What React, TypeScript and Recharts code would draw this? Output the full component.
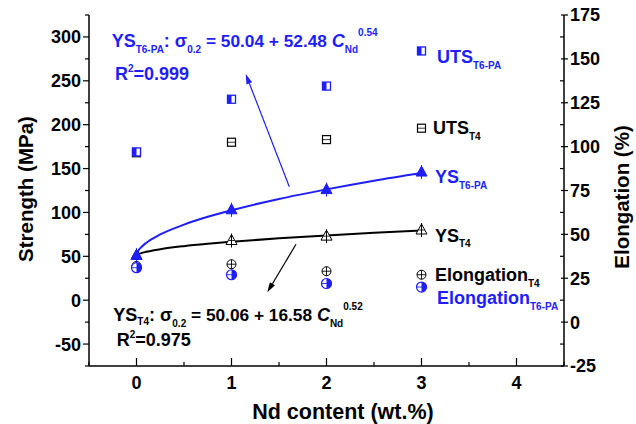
import React from 'react';
import { ComposedChart, Line, Scatter, XAxis, YAxis } from 'recharts';

// Nd content (wt.%)
const ndContent = [0, 1, 2, 3];

// strength, MPa (left axis)
const utsT6PA = [169, 229, 244, 284];
const utsT4 = [168, 180, 183, 196];
const ysT6PA = [51, 103, 126, 146];
const ysT4 = [51, 68, 73, 80];

// elongation, % (right axis)
const elongT4 = [32, 33, 29, 27];
const elongT6PA = [31, 27, 22, 20];

// fitted curves
const fitX = [0, 0.02, 0.05, 0.1, 0.25, 0.5, 0.75, 1, 1.5, 2, 2.5, 3];
const fitYsT6PA = [50, 56.4, 60.4, 65.2, 74.9, 86.1, 95, 102.5, 115.4, 126.3, 136.2, 145];
const fitYsT4 = [50.1, 52.2, 53.6, 55.1, 58.1, 61.6, 64.3, 66.6, 70.5, 73.8, 76.8, 79.4];

// axis ticks
const xTicks = [-0.5, 0, 0.5, 1, 1.5, 2, 2.5, 3, 3.5, 4, 4.5];
const leftTicks = [-75, -50, -25, 0, 25, 50, 75, 100, 125, 150, 175, 200, 225, 250, 275, 300, 325];
const rightTicks = [-25, -12.5, 0, 12.5, 25, 37.5, 50, 62.5, 75, 87.5, 100, 112.5, 125, 137.5, 150, 162.5, 175];

const BLUE = '#1e1eff';
const FONT = "'Liberation Sans', Arial, Helvetica, sans-serif";

const pts = (ys: number[]) => ndContent.map((x, i) => ({ x, y: ys[i] }));
const curve = (ys: number[]) => fitX.map((x, i) => ({ x, y: ys[i] }));

const tickText = { fontSize: 18, fontWeight: 'bold' as const, fontFamily: FONT, fill: '#000' };

const BottomTick = ({ x, y, payload }: any) => {
  const major = Number.isInteger(payload.value);
  return (
    <g>
      <line x1={x} x2={x} y1={y} y2={y - (major ? 8 : 4)} stroke="#000" strokeWidth={1.2} />
      {major && (
        <text x={x} y={y + 23} textAnchor="middle" {...tickText}>
          {payload.value}
        </text>
      )}
    </g>
  );
};

const TopTick = ({ x, y }: any) => (
  <line x1={x} x2={x} y1={y} y2={y + 3} stroke="#000" strokeWidth={1} />
);

const LeftTick = ({ x, y, payload }: any) => {
  const major = payload.value % 50 === 0;
  return (
    <g>
      <line x1={x} x2={x - (major ? 6 : 4)} y1={y} y2={y} stroke="#000" strokeWidth={1.2} />
      {major && (
        <text x={x - 8} y={y} dy="0.36em" textAnchor="end" {...tickText}>
          {payload.value}
        </text>
      )}
    </g>
  );
};

const RightTick = ({ x, y, payload }: any) => {
  const major = payload.value % 25 === 0;
  return (
    <g>
      <line x1={major ? x - 3 : x - 4} x2={major ? x + 4 : x} y1={y} y2={y} stroke="#000" strokeWidth={1.2} />
      {major && (
        <text x={x + 6} y={y} dy="0.36em" textAnchor="start" {...tickText}>
          {payload.value}
        </text>
      )}
    </g>
  );
};

// markers
const HalfSquare = ({ cx, cy }: any) => (
  <g>
    <rect x={cx - 4} y={cy - 4} width={8} height={8} fill="#fff" stroke={BLUE} strokeWidth={1.3} />
    <rect x={cx - 4} y={cy - 4} width={4} height={8} fill={BLUE} />
  </g>
);

const OpenSquare = ({ cx, cy }: any) => (
  <g>
    <rect x={cx - 4} y={cy - 4} width={8} height={8} fill="none" stroke="#000" strokeWidth={1.2} />
    <line x1={cx - 4} x2={cx + 4} y1={cy} y2={cy} stroke="#000" strokeWidth={0.8} />
  </g>
);

const FilledTriangle = ({ cx, cy }: any) => (
  <g>
    <polygon points={`${cx},${cy - 6} ${cx - 5.5},${cy + 4} ${cx + 5.5},${cy + 4}`} fill={BLUE} stroke={BLUE} />
    <line x1={cx} x2={cx} y1={cy - 7} y2={cy + 7} stroke={BLUE} strokeWidth={1} />
  </g>
);

const OpenTriangle = ({ cx, cy }: any) => (
  <g>
    <polygon points={`${cx},${cy - 6} ${cx - 5.5},${cy + 4} ${cx + 5.5},${cy + 4}`} fill="#fff" stroke="#000" strokeWidth={1} />
    <line x1={cx - 3} x2={cx + 3} y1={cy} y2={cy} stroke="#000" strokeWidth={0.8} />
    <line x1={cx} x2={cx} y1={cy - 7} y2={cy + 7} stroke="#000" strokeWidth={1} />
  </g>
);

const CrossCircle = ({ cx, cy }: any) => (
  <g>
    <circle cx={cx} cy={cy} r={4.5} fill="#fff" stroke="#000" strokeWidth={1} />
    <line x1={cx - 4.5} x2={cx + 4.5} y1={cy} y2={cy} stroke="#000" strokeWidth={0.9} />
    <line x1={cx} x2={cx} y1={cy - 4.5} y2={cy + 4.5} stroke="#000" strokeWidth={0.9} />
  </g>
);

const HalfCircle = ({ cx, cy }: any) => (
  <g>
    <circle cx={cx} cy={cy} r={5} fill="#fff" stroke={BLUE} strokeWidth={1.2} />
    <path d={`M${cx},${cy - 5} A5,5 0 0 1 ${cx},${cy + 5} Z`} fill={BLUE} />
    <line x1={cx - 5} x2={cx + 5} y1={cy} y2={cy} stroke={BLUE} strokeWidth={0.9} />
  </g>
);

const Arrow = ({ x1, y1, x2, y2, color }: any) => {
  const a = Math.atan2(y2 - y1, x2 - x1);
  const len = 10;
  const w = 3;
  const bx = x2 - len * Math.cos(a);
  const by = y2 - len * Math.sin(a);
  const px = -Math.sin(a) * w;
  const py = Math.cos(a) * w;
  return (
    <g>
      <line x1={x1} y1={y1} x2={bx} y2={by} stroke={color} strokeWidth={1.2} />
      <polygon points={`${x2},${y2} ${bx + px},${by + py} ${bx - px},${by - py}`} fill={color} />
    </g>
  );
};

const Label = ({ x, y, main, sub, color, subDy = 6 }: any) => (
  <text x={x} y={y} fill={color} fontSize={18} fontWeight="bold" fontFamily={FONT}>
    {main}
    <tspan fontSize={10} dy={subDy}>{sub}</tspan>
  </text>
);

export default function App() {
  return (
    <div style={{ position: 'absolute', left: 0, top: 0, width: 636, height: 424, background: '#fff' }}>
      <ComposedChart width={636} height={424} margin={{ top: 15, right: 0, bottom: 0, left: 0 }}>
        <XAxis
          xAxisId="b"
          type="number"
          dataKey="x"
          domain={[-0.5, 4.5]}
          ticks={xTicks}
          interval={0}
          height={58}
          tickSize={0}
          tickMargin={0}
          tickLine={false}
          tick={<BottomTick />}
          axisLine={{ stroke: '#000', strokeWidth: 1.5 }}
        />
        <XAxis
          xAxisId="t"
          orientation="top"
          type="number"
          dataKey="x"
          domain={[-0.5, 4.5]}
          ticks={xTicks}
          interval={0}
          height={0}
          tickSize={0}
          tickMargin={0}
          tickLine={false}
          tick={<TopTick />}
          axisLine={{ stroke: '#000', strokeWidth: 1.5 }}
        />
        <YAxis
          yAxisId="left"
          type="number"
          domain={[-75, 325]}
          ticks={leftTicks}
          interval={0}
          width={89}
          tickSize={0}
          tickMargin={0}
          tickLine={false}
          tick={<LeftTick />}
          axisLine={{ stroke: '#000', strokeWidth: 1.5 }}
        />
        <YAxis
          yAxisId="right"
          orientation="right"
          type="number"
          domain={[-25, 175]}
          ticks={rightTicks}
          interval={0}
          width={72}
          tickSize={0}
          tickMargin={0}
          tickLine={false}
          tick={<RightTick />}
          axisLine={{ stroke: '#000', strokeWidth: 1.5 }}
        />

        <Line xAxisId="b" yAxisId="left" data={curve(fitYsT4)} dataKey="y" type="monotone" stroke="#000" strokeWidth={2} dot={false} isAnimationActive={false} />
        <Line xAxisId="b" yAxisId="left" data={curve(fitYsT6PA)} dataKey="y" type="monotone" stroke={BLUE} strokeWidth={2} dot={false} isAnimationActive={false} />

        <Scatter xAxisId="b" yAxisId="left" data={pts(utsT4)} dataKey="y" shape={OpenSquare} isAnimationActive={false} />
        <Scatter xAxisId="b" yAxisId="left" data={pts(ysT4)} dataKey="y" shape={OpenTriangle} isAnimationActive={false} />
        <Scatter xAxisId="b" yAxisId="right" data={pts(elongT4)} dataKey="y" shape={CrossCircle} isAnimationActive={false} />
        <Scatter xAxisId="b" yAxisId="left" data={pts(utsT6PA)} dataKey="y" shape={HalfSquare} isAnimationActive={false} />
        <Scatter xAxisId="b" yAxisId="left" data={pts(ysT6PA)} dataKey="y" shape={FilledTriangle} isAnimationActive={false} />
        <Scatter xAxisId="b" yAxisId="right" data={pts(elongT6PA)} dataKey="y" shape={HalfCircle} isAnimationActive={false} />
      </ComposedChart>

      <svg width={636} height={424} style={{ position: 'absolute', left: 0, top: 0, pointerEvents: 'none' }}>
        {/* axis titles */}
        <text x={343} y={419} textAnchor="middle" fontSize={21.5} fontWeight="bold" fontFamily={FONT}>
          Nd content (wt.%)
        </text>
        <text transform="translate(33,189) rotate(-90)" textAnchor="middle" fontSize={20.5} fontWeight="bold" fontFamily={FONT}>
          Strength (MPa)
        </text>
        <text transform="translate(629,197) rotate(-90)" textAnchor="middle" fontSize={20.5} fontWeight="bold" fontFamily={FONT}>
          Elongation (%)
        </text>

        {/* fit equations */}
        <text x={111.7} y={47} fill={BLUE} fontSize={18} fontWeight="bold" fontFamily={FONT}>
          YS<tspan fontSize={10} dy={6}>T6-PA</tspan>
          <tspan dy={-6}>{': σ'}</tspan>
          <tspan fontSize={10} dy={6}>0.2</tspan>
          <tspan dy={-6} fontSize={17.3}>{' = 50.04 + 52.48 '}</tspan>
          <tspan fontStyle="italic">C</tspan>
          <tspan fontSize={10} dy={6}>Nd</tspan>
          <tspan fontSize={10} dy={-17}>0.54</tspan>
        </text>
        <text x={115} y={80} fill={BLUE} fontSize={18} fontWeight="bold" fontFamily={FONT}>
          R<tspan fontSize={10} dy={-8}>2</tspan>
          <tspan dy={8}>=0.999</tspan>
        </text>

        <text x={113.3} y={320.7} fill="#000" fontSize={18} fontWeight="bold" fontFamily={FONT}>
          YS<tspan fontSize={10} dy={4.5}>T4</tspan>
          <tspan dy={-4.5}>{': σ'}</tspan>
          <tspan fontSize={10} dy={6}>0.2</tspan>
          <tspan dy={-6} fontSize={17.3}>{' = 50.06 + 16.58 '}</tspan>
          <tspan fontStyle="italic">C</tspan>
          <tspan fontSize={10} dy={6}>Nd</tspan>
          <tspan fontSize={10} dy={-17}>0.52</tspan>
        </text>
        <text x={116.7} y={345.7} fill="#000" fontSize={18} fontWeight="bold" fontFamily={FONT}>
          R<tspan fontSize={10} dy={-8}>2</tspan>
          <tspan dy={8}>=0.975</tspan>
        </text>

        <Arrow x1={289.3} y1={186.7} x2={245.7} y2={74} color={BLUE} />
        <Arrow x1={296} y1={244.3} x2={267.3} y2={292.3} color="#000" />

        {/* series labels */}
        <Label x={437} y={62.5} main="UTS" sub="T6-PA" color={BLUE} />
        <Label x={433} y={133.5} main="UTS" sub="T4" color="#000" />
        <Label x={435} y={182.5} main="YS" sub="T6-PA" color={BLUE} />
        <Label x={435} y={241.5} main="YS" sub="T4" color="#000" subDy={5} />
        <Label x={435} y={281} main="Elongation" sub="T4" color="#000" />
        <Label x={437} y={303.5} main="Elongation" sub="T6-PA" color={BLUE} />
      </svg>
    </div>
  );
}
